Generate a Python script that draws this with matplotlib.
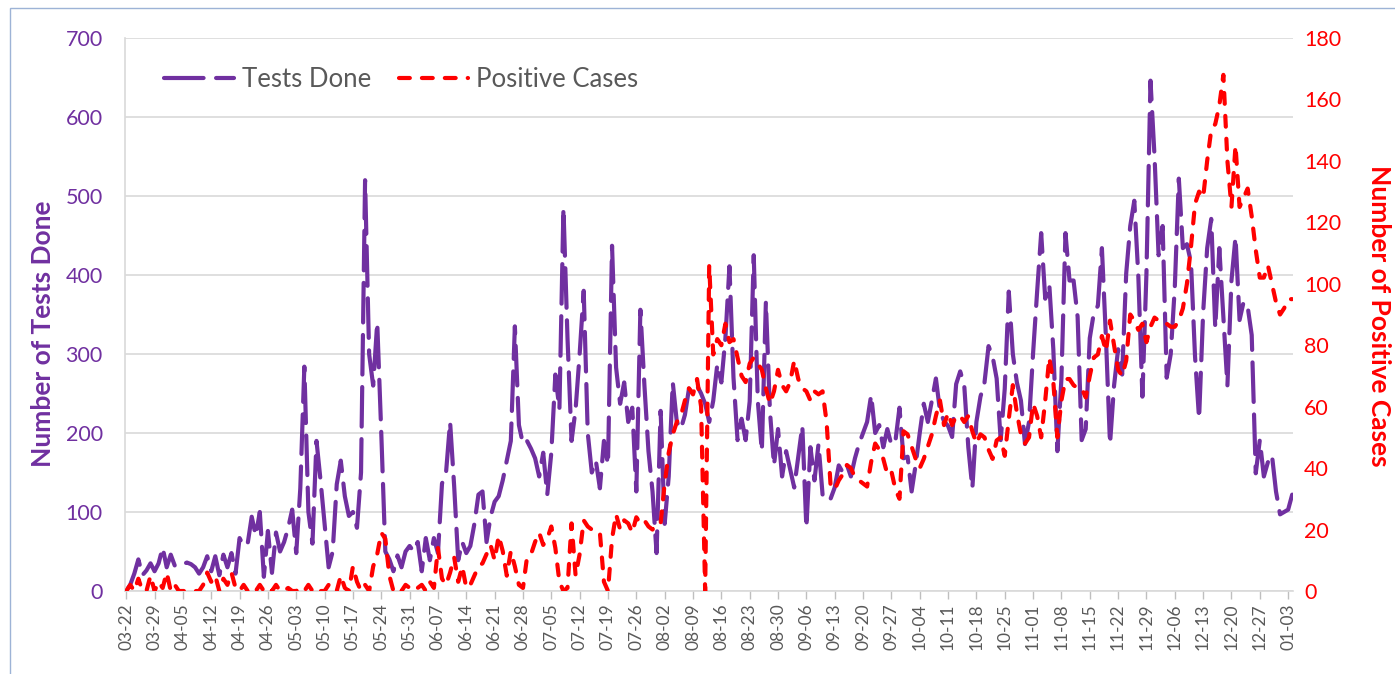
import matplotlib
matplotlib.use("Agg")
import matplotlib.pyplot as plt
import numpy as np
import pandas as pd
from matplotlib.patches import Rectangle

plt.rcParams['font.family'] = ['Lato', 'DejaVu Sans']

start_date = "2020-03-22"

tests_done = [
    0, 8, 22, 40, 20, 26, 35,
    25, 35, 55, 30, 46, 32, 35,
    34, 36, 34, 30, 22, 30, 44,
    25, 44, 20, 46, 30, 48, 22,
    67, 57, 60, 94, 70, 100, 18,
    76, 23, 74, 50, 62, 80, 103,
    48, 130, 284, 100, 60, 190, 140,
    85, 30, 50, 135, 165, 120, 95,
    100, 80, 150, 520, 300, 260, 340,
    200, 50, 40, 25, 45, 30, 50,
    57, 50, 62, 25, 67, 39, 67,
    48, 136, 150, 214, 133, 39, 62,
    48, 57, 85, 122, 126, 62, 94,
    113, 120, 140, 165, 190, 335, 210,
    186, 190, 180, 168, 145, 175, 122,
    175, 274, 230, 485, 320, 190, 230,
    300, 380, 200, 150, 165, 130, 190,
    160, 437, 283, 237, 264, 214, 232,
    126, 356, 260, 177, 126, 48, 228,
    85, 145, 264, 214, 205, 223, 256,
    250, 260, 250, 237, 214, 241, 287,
    264, 320, 411, 270, 191, 218, 191,
    240, 425, 241, 177, 366, 228, 159,
    205, 145, 177, 154, 131, 170, 209,
    80, 182, 140, 186, 122, 125, 117,
    131, 159, 150, 160, 145, 168, 186,
    200, 214, 248, 200, 210, 182, 205,
    185, 190, 232, 168, 170, 126, 160,
    200, 237, 214, 241, 269, 228, 215,
    209, 195, 262, 278, 260, 182, 130,
    214, 246, 264, 310, 297, 269, 191,
    256, 379, 300, 264, 241, 186, 214,
    301, 379, 453, 370, 388, 306, 177,
    269, 453, 393, 393, 347, 191, 205,
    320, 352, 361, 434, 320, 186, 260,
    306, 274, 402, 462, 494, 398, 246,
    402, 646, 550, 425, 462, 270, 300,
    384, 522, 434, 439, 416, 297, 218,
    352, 434, 471, 333, 434, 347, 260,
    393, 448, 343, 366, 360, 324, 149,
    191, 145, 163, 172, 126, 97, 100,
    103, 122,
]

positive_cases = [
    0, 2, 0, 4, 0, 0, 5,
    0, 3, 1, 6, 0, 2, 0,
    0, 0, 0, 0, 0, 2, 6,
    3, 5, 0, 4, 2, 6, 1,
    0, 2, 0, 1, 0, 2, 0,
    1, 0, 2, 0, 0, 1, 0,
    0, 1, 0, 2, 0, 1, 0,
    0, 2, 0, 0, 5, 1, 0,
    8, 3, 0, 2, 0, 8, 12,
    19, 17, 5, 0, 1, 0, 2,
    1, 0, 1, 2, 0, 3, 1,
    14, 4, 2, 6, 11, 3, 8,
    1, 2, 5, 8, 9, 12, 15,
    10, 18, 13, 5, 13, 8, 2,
    1, 11, 12, 16, 19, 15, 17,
    21, 14, 3, 0, 1, 22, 5,
    12, 23, 21, 20, 19, 19, 3,
    0, 17, 25, 20, 23, 22, 19,
    24, 22, 23, 21, 20, 22, 22,
    35, 45, 51, 55, 57, 62, 66,
    64, 69, 60, 0, 106, 77, 82,
    80, 87, 81, 82, 76, 70, 68,
    74, 76, 74, 72, 66, 61, 65,
    72, 67, 65, 68, 75, 69, 66,
    65, 62, 65, 64, 65, 55, 34,
    33, 36, 38, 41, 40, 37, 36,
    35, 34, 42, 48, 46, 43, 38,
    39, 33, 30, 52, 51, 47, 43,
    40, 43, 47, 51, 57, 62, 54,
    58, 54, 57, 57, 55, 57, 52,
    48, 51, 50, 46, 43, 49, 50,
    44, 56, 67, 58, 51, 48, 50,
    61, 57, 50, 62, 76, 68, 50,
    62, 69, 69, 67, 66, 66, 63,
    70, 76, 77, 83, 78, 88, 80,
    72, 70, 75, 90, 88, 85, 87,
    81, 86, 89, 88, 87, 87, 86,
    86, 88, 92, 100, 112, 126, 130,
    128, 140, 150, 152, 158, 168, 140,
    125, 145, 125, 128, 131, 122, 111,
    102, 102, 106, 100, 94, 90, 92,
    95, 95,
]

left_ticks = [0, 100, 200, 300, 400, 500, 600, 700]
right_ticks = [0, 20, 40, 60, 80, 100, 120, 140, 160, 180]

PURPLE = "#7030A0"
RED = "#FF0000"
GRAY = "#595959"

dates = pd.date_range(start_date, periods=len(tests_done), freq="D")
x = np.arange(len(dates))
tick_pos = x[::7][:42]
tick_labels = [d.strftime("%m-%d") for d in dates[tick_pos]]

fig = plt.figure(figsize=(13.95, 6.74), dpi=100)
W, H = 1395, 674
ax = fig.add_axes([125 / W, 1 - 591 / H, (1293 - 125) / W, (591 - 38) / H])
ax2 = ax.twinx()

l1, = ax.plot(x, tests_done, color=PURPLE, lw=3, dashes=(9.5, 3.0),
              dash_capstyle="round", solid_capstyle="round", label="Tests Done")
l2, = ax2.plot(x, positive_cases, color=RED, lw=3, dashes=(2.6, 2.9),
               dash_capstyle="round", label="Positive Cases")

ax.set_xlim(-0.3, 288.2)
ax.set_ylim(0, 700)
ax2.set_ylim(0, 180)
ax.set_yticks(left_ticks)
ax2.set_yticks(right_ticks)
ax.set_xticks(tick_pos)
ax.set_xticklabels(tick_labels, rotation=90, fontsize=12.5, color=GRAY)

ax.tick_params(axis="y", length=0, pad=16, labelsize=15.5, labelcolor=PURPLE)
ax2.tick_params(axis="y", length=0, pad=8, labelsize=15.5, labelcolor=RED)
ax.tick_params(axis="x", length=6, width=1, color="#BFBFBF", pad=3)

ax.grid(axis="y", color="#D9D9D9", lw=1.2)
ax.set_axisbelow(True)
for s in ["top", "right"]:
    ax.spines[s].set_visible(False)
    ax2.spines[s].set_visible(False)
ax2.spines["left"].set_visible(False)
ax2.spines["bottom"].set_visible(False)
ax.spines["left"].set_color("#D9D9D9")
ax.spines["left"].set_linewidth(1.2)
ax.spines["bottom"].set_color("#D9D9D9")
ax.spines["bottom"].set_linewidth(1.2)

fig.text(43 / W, 1 - 334 / H, "Number of Tests Done", fontsize=19,
         fontweight="bold", color=PURPLE, rotation=90, ha="center", va="center")
fig.text(1379 / W, 1 - 316 / H, "Number of Positive Cases", fontsize=19,
         fontweight="bold", color=RED, rotation=270, ha="center", va="center")

leg = ax2.legend([l1, l2], ["Tests Done", "Positive Cases"], loc="upper left",
                 bbox_to_anchor=(0.014, 0.99), ncol=2, frameon=False,
                 fontsize=18.5, handlelength=2.7, columnspacing=1.1,
                 handletextpad=0.3)
for t in leg.get_texts():
    t.set_color(GRAY)

fig.patches.append(Rectangle((10 / W, -0.01), 1.0, 1 - 8 / H + 0.01,
                             transform=fig.transFigure, fill=False,
                             edgecolor="#9DB3D6", lw=1.0))

fig.savefig("out.png", dpi=100)
